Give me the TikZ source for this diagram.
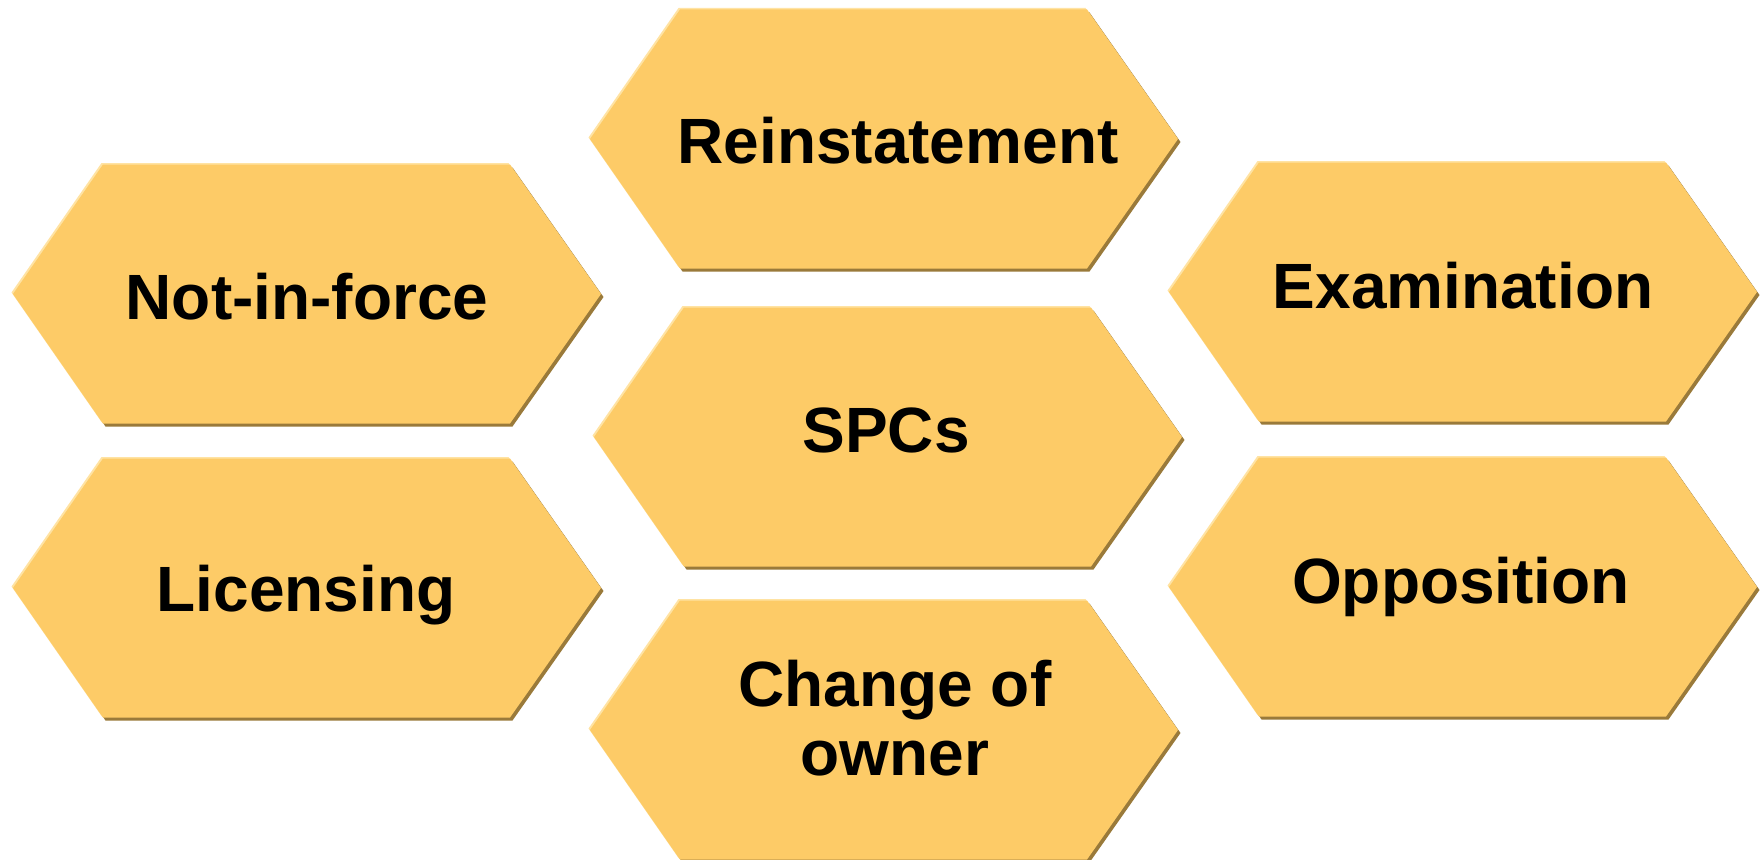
\documentclass[tikz,border=0pt]{standalone}
\usepackage{fontspec}
\setmainfont{Liberation Sans}
\definecolor{hexfill}{HTML}{FDCB67}
\definecolor{hexshade}{HTML}{9A7A3A}
\definecolor{hexlight}{HTML}{FFE3A3}
\tikzset{
  hexlabel/.style={font=\fontsize{64}{69}\selectfont\bfseries, text=black,
    align=center, inner sep=0pt, anchor=base},
}
\newcommand\hexoutline{(-294,0) -- (-204,-129.5) -- (203,-129.5) -- (294,0) -- (203,129.5) -- (-204,129.5) -- cycle}
\newcommand\hexcell[2]{%
  \begin{scope}[shift={(#1,#2)}]
    \fill[hexshade, shift={(2.5,3)}] \hexoutline;
    \fill[hexlight, shift={(-1.5,-1.5)}] \hexoutline;
    \fill[hexfill] \hexoutline;
  \end{scope}}
\begin{document}
\begin{tikzpicture}[x=1pt,y=-1pt]
  \useasboundingbox (0,0) rectangle (1763,859);
  \fill[white] (0,0) rectangle (1763,859);
  \hexcell{884}{139}
  \hexcell{307}{294}
  \hexcell{1463}{292}
  \hexcell{888}{437}
  \hexcell{307}{588}
  \hexcell{1463}{587}
  \hexcell{884}{730}
  \node[hexlabel] (reinst) at (898,163) {Reinstatement};
  \node[hexlabel] (notin) at (307,319) {Not-in-force};
  \node[hexlabel] (exam) at (1463,308) {Examination};
  \node[hexlabel] (spc) at (886,452) {SPCs};
  \node[hexlabel] (lic) at (306,611) {Licensing};
  \node[hexlabel] (oppo) at (1461,603) {Opposition};
  \node[hexlabel] (owner) at (895,775) {Change of\\owner};
\end{tikzpicture}
\end{document}
